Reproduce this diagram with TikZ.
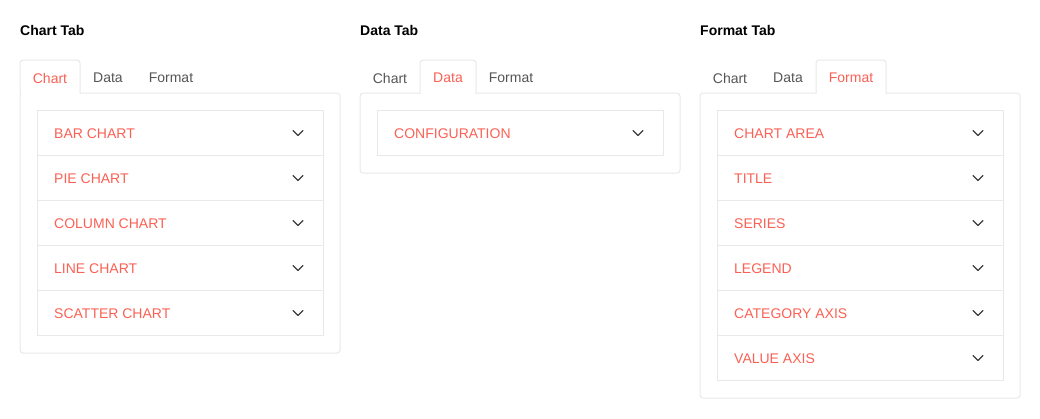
\documentclass[tikz,border=0pt]{standalone}
\usepackage{fontspec}
\setmainfont{Liberation Sans}
\usetikzlibrary{positioning}
\definecolor{accent}{RGB}{250,96,84}
\definecolor{tabgray}{RGB}{85,85,85}
\definecolor{edge}{RGB}{232,232,232}
\definecolor{chev}{RGB}{60,60,60}
\tikzset{
  title/.style={anchor=west, inner sep=0pt, font=\bfseries\fontsize{14}{16}\selectfont, text=black},
  tablabel/.style={inner sep=0pt, font=\fontsize{14}{16}\selectfont, text=tabgray},
  item/.style={anchor=west, inner sep=0pt, yshift=-1pt, font=\fontsize{14}{16}\selectfont, text=accent},
  panel/.style={draw=edge, line width=1pt, rounded corners=3pt, outer sep=0pt, anchor=north west, minimum width=320pt},
  row/.style={draw=edge, line width=1pt, outer sep=0pt, anchor=north west, minimum width=286pt, minimum height=45pt},
  chevron/.style={draw=chev, line width=1.3pt, line cap=round, line join=round}
}
\begin{document}
\begin{tikzpicture}[x=1pt,y=-1pt]
    \useasboundingbox (0,0) rectangle (1040,418);
    % Chart tab
    \node[title] (tchart) at (20,30) {Chart Tab};
    \node[panel, minimum height=260pt] (pchart) at (20,93) {};
    \draw[draw=edge, line width=1pt, rounded corners=3pt, fill=white] (20,94) |- (80,60) -- (80,94);
    \node[tablabel, text=accent] (chartA) at (50,78) {Chart};
    \node[tablabel] (dataA) at (108,78) {Data};
    \node[tablabel] (formatA) at (171,78) {Format};
    \foreach \lbl [count=\i] in {BAR CHART, PIE CHART, COLUMN CHART, LINE CHART, SCATTER CHART} {
        \node[row] (crow\i) at (37,{110+45*(\i-1)}) {};
        \node[item, right=17pt of crow\i.west] {\lbl};
        \draw[chevron] (crow\i.east) ++(-30,-2) -- ++(5,5) -- ++(5,-5);
    }
    % Data tab
    \node[title] (tdata) at (360,30) {Data Tab};
    \node[panel, minimum height=80pt] (pdata) at (360,93) {};
    \draw[draw=edge, line width=1pt, rounded corners=3pt, fill=white] (420,94) |- (476,60) -- (476,94);
    \node[tablabel] (chartB) at (390,78) {Chart};
    \node[tablabel, text=accent] (dataB) at (448,78) {Data};
    \node[tablabel] (formatB) at (511,78) {Format};
    \node[row] (drow1) at (377,110) {};
    \node[item, right=17pt of drow1.west] {CONFIGURATION};
    \draw[chevron] (drow1.east) ++(-30,-2) -- ++(5,5) -- ++(5,-5);
    % Format tab
    \node[title] (tformat) at (700,30) {Format Tab};
    \node[panel, minimum height=305pt] (pformat) at (700,93) {};
    \draw[draw=edge, line width=1pt, rounded corners=3pt, fill=white] (816,94) |- (886,60) -- (886,94);
    \node[tablabel] (chartC) at (730,78) {Chart};
    \node[tablabel] (dataC) at (788,78) {Data};
    \node[tablabel, text=accent] (formatC) at (851,78) {Format};
    \foreach \lbl [count=\i] in {CHART AREA, TITLE, SERIES, LEGEND, CATEGORY AXIS, VALUE AXIS} {
        \node[row] (frow\i) at (717,{110+45*(\i-1)}) {};
        \node[item, right=17pt of frow\i.west] {\lbl};
        \draw[chevron] (frow\i.east) ++(-30,-2) -- ++(5,5) -- ++(5,-5);
    }
\end{tikzpicture}
\end{document}
